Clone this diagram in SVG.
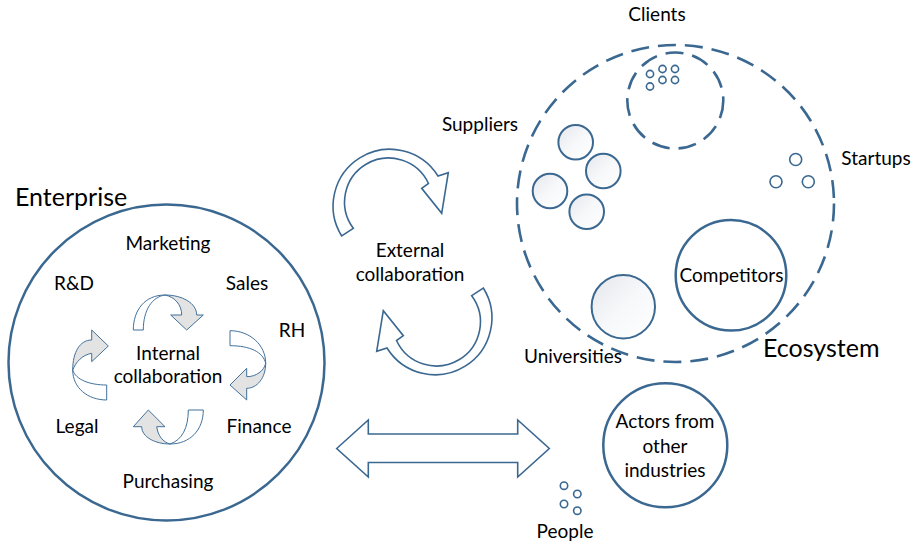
<svg xmlns="http://www.w3.org/2000/svg" width="913" height="544" viewBox="0 0 913 544">
<defs>
<linearGradient id="g" x1="0" y1="0" x2="1" y2="1">
<stop offset="0" stop-color="#e4e6eb"/>
<stop offset="0.5" stop-color="#f7f8fa"/>
<stop offset="1" stop-color="#ffffff"/>
</linearGradient>
<style>
.t{font-family:Lato,"Liberation Sans",sans-serif;font-size:19px;fill:#000;text-anchor:middle}
.big{font-family:Lato,"Liberation Sans",sans-serif;font-size:25px;fill:#000}
.c{fill:#fff;stroke:#3b6891;stroke-width:2.5}
.cg{fill:url(#g);stroke:#3b6891;stroke-width:2}
.s{fill:#fff;stroke:#3b6891;stroke-width:1.6}
.d{fill:none;stroke:#3b6891;stroke-width:2.6;stroke-dasharray:18 9}
.aw{fill:#fff;stroke:#41719c;stroke-width:1}
.ag{fill:#e3e3e3;stroke:#41719c;stroke-width:1}
.ba{fill:#fff;stroke:#3b6891;stroke-width:1.6}
</style>
</defs>
<rect width="913" height="544" fill="#fff"/>

<g id="enterprise">
<circle class="c" cx="166.5" cy="362.5" r="158"/>
<text class="big" x="15" y="206">Enterprise</text>
<text class="t" x="168" y="250">Marketing</text>
<text class="t" x="74" y="290">R&amp;D</text>
<text class="t" x="247" y="290">Sales</text>
<text class="t" x="292" y="337">RH</text>
<text class="t" x="168" y="360">Internal</text>
<text class="t" x="168" y="383">collaboration</text>
<text class="t" x="77" y="433">Legal</text>
<text class="t" x="259" y="433">Finance</text>
<text class="t" x="168" y="488">Purchasing</text>
</g>

<g id="internal-arrows">
<path class="aw" d="M133.3,330 C133.3,310 145,295 165,295 C152,297 143.3,310 143.3,330 Z"/>
<path class="ag" d="M165,295 C182,295 196.7,303 196.7,315 L203.3,315 L186.7,330 L170.7,315 L181.7,315 C181.7,305 175,297 165,295 Z"/>
<path class="aw" d="M230,330.7 C250,330.7 265.7,345 265.7,363.3 C263,352 250,345.7 230,345.7 Z"/>
<path class="ag" d="M265.7,363.3 C265.7,378 257,388.3 246.7,388.3 L246.7,400 L230,385 L246.7,368.3 L246.7,376.7 C256,376.7 264,371 265.7,363.3 Z"/>
<path class="aw" d="M203.3,410 C203.3,430 190,444 170,444 C182,440 188.3,428 188.3,410 Z"/>
<path class="ag" d="M170,444 C155,444 141.7,437 141.7,426.7 L133.3,426.7 L148.3,410 L165,426.7 L156.7,426.7 C158,436 163,442 170,444 Z"/>
<path class="aw" d="M106.7,400 C88,400 72.7,388 72.7,370 C76,380 90,385 106.7,385 Z"/>
<path class="ag" d="M72.7,370 C72.7,352 80,340 91.7,340 L91.7,330 L108.3,346 L91.7,361.7 L91.7,353.3 C82,355 76,362 72.7,370 Z"/>
</g>

<g id="external-collaboration">
<text class="t" x="410" y="257">External</text>
<text class="t" x="410" y="281">collaboration</text>
</g>

<g id="connectors">
<path id="ext-top" class="ba" d="M341.7,236 A56,56 0 1 1 438,176 L448.3,172.7 L441.7,213.3 L421.7,188.3 L428.5,183.5 A44,44 0 1 0 353.3,228.3 Z"/>
<path id="ext-bottom" class="ba" transform="rotate(180 412.5 262)" d="M341.7,236 A56,56 0 1 1 438,176 L448.3,172.7 L441.7,213.3 L421.7,188.3 L428.5,183.5 A44,44 0 1 0 353.3,228.3 Z"/>
<path id="double-arrow" class="ba" d="M336.7,448.5 L368.3,420 L368.3,434 L517.7,434 L517.7,420 L549.3,448.5 L517.7,477 L517.7,462.5 L368.3,462.5 L368.3,477 Z"/>
</g>

<g id="ecosystem">
<circle class="d" cx="675.5" cy="203.5" r="158.5"/>
<text class="big" x="763" y="357">Ecosystem</text>
</g>

<g id="clients">
<circle class="d" cx="675.3" cy="100.5" r="48"/>
<circle class="s" cx="650" cy="74" r="3.6"/>
<circle class="s" cx="662.5" cy="69" r="3.6"/>
<circle class="s" cx="675" cy="69" r="3.6"/>
<circle class="s" cx="650" cy="86.5" r="3.6"/>
<circle class="s" cx="662.5" cy="80" r="3.6"/>
<circle class="s" cx="675" cy="80" r="3.6"/>
<text class="t" x="657" y="21">Clients</text>
</g>

<g id="suppliers">
<circle class="cg" cx="575.7" cy="142.3" r="17.3"/>
<circle class="cg" cx="603.3" cy="171" r="17.3"/>
<circle class="cg" cx="550" cy="191" r="17.3"/>
<circle class="cg" cx="586.7" cy="211.7" r="17.3"/>
<text class="t" x="480" y="131">Suppliers</text>
</g>

<g id="startups">
<circle class="s" cx="795.7" cy="159.5" r="6"/>
<circle class="s" cx="776" cy="181.7" r="6"/>
<circle class="s" cx="808.3" cy="181.7" r="6"/>
<text class="t" x="876" y="165">Startups</text>
</g>

<g id="competitors">
<circle class="c" cx="731" cy="275.3" r="55.3"/>
<text class="t" x="731.5" y="282">Competitors</text>
</g>

<g id="universities">
<circle class="cg" cx="623.3" cy="306.7" r="31.7"/>
<text class="t" x="573" y="363">Universities</text>
</g>

<g id="actors">
<circle class="c" cx="665.3" cy="445.3" r="62"/>
<text class="t" x="665" y="428">Actors from</text>
<text class="t" x="665" y="453">other</text>
<text class="t" x="665" y="477">industries</text>
</g>

<g id="people">
<circle class="s" cx="564" cy="485.7" r="3.7"/>
<circle class="s" cx="577.3" cy="494" r="3.7"/>
<circle class="s" cx="564" cy="504" r="3.7"/>
<circle class="s" cx="577.3" cy="510.7" r="3.7"/>
<text class="t" x="565" y="538">People</text>
</g>
</svg>
